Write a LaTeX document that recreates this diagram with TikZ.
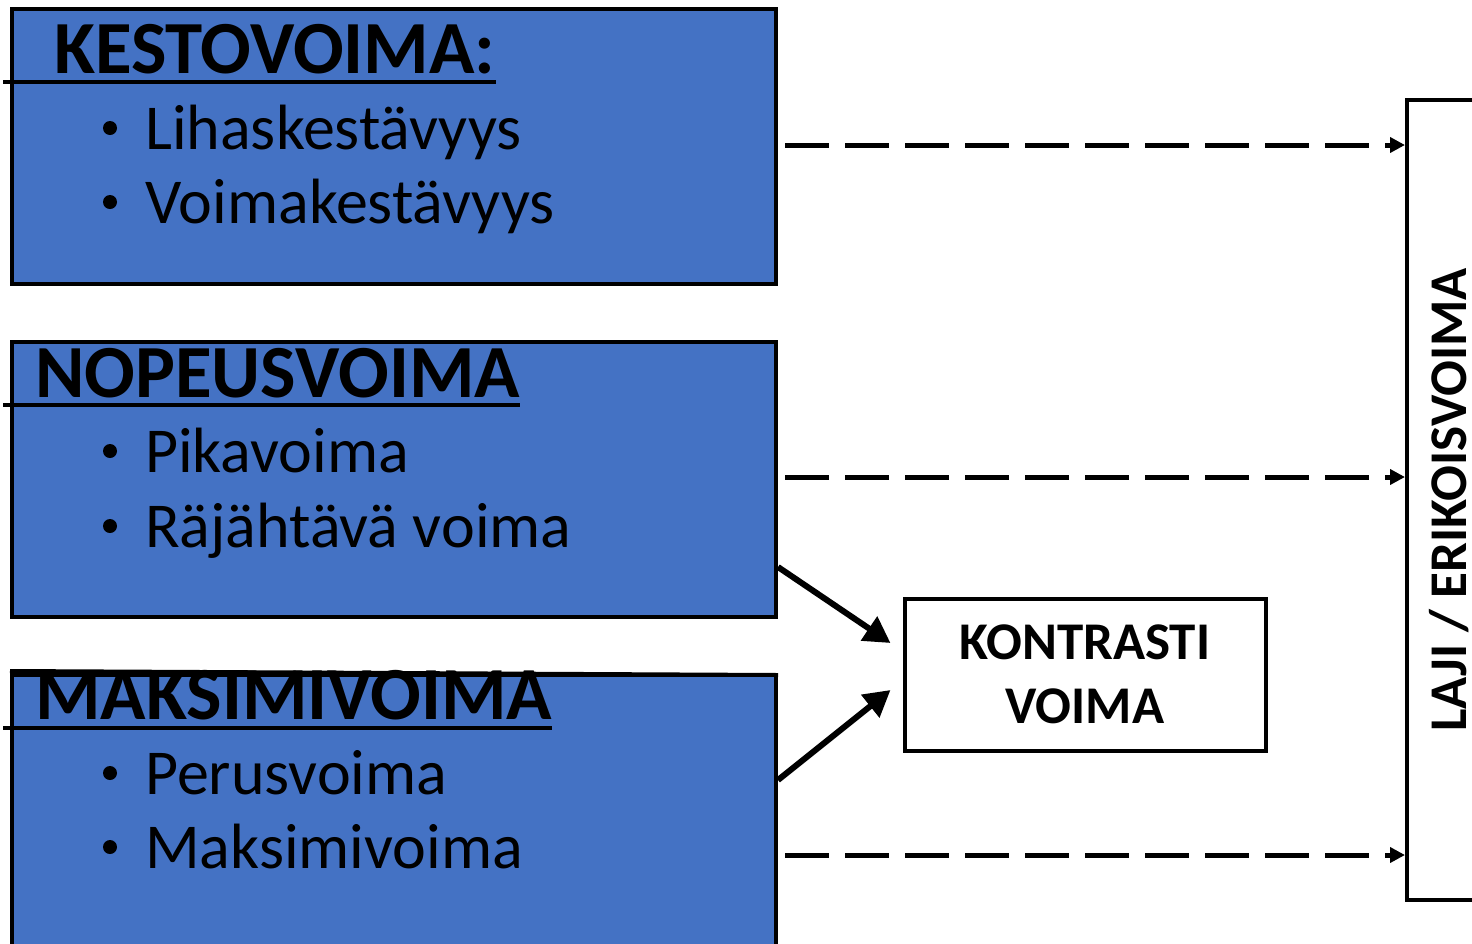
\documentclass[tikz,border=0pt]{standalone}
\usepackage{fontspec}
\setmainfont{Carlito}
\usetikzlibrary{arrows.meta}
\definecolor{boxblue}{HTML}{4472C4}
\begin{document}
\begin{tikzpicture}[x=1pt,y=-1pt,
  bluebox/.style={draw=black,line width=4pt,fill=boxblue,minimum width=764pt,inner sep=0pt},
  titletext/.style={font=\fontsize{75}{90}\selectfont\bfseries,inner sep=0pt,anchor=base west},
  itemtext/.style={font=\fontsize{64}{76}\selectfont,inner sep=0pt,anchor=base west},
  bul/.style={circle,fill=black,inner sep=0pt,minimum size=14pt},
  uline/.style={line width=4pt},
  dasharrow/.style={line width=5pt,dash pattern=on 44pt off 16pt,-{Triangle[length=15pt,width=15pt]}},
  solidarrow/.style={line width=6pt,-{Triangle[length=26pt,width=28pt]}},
  whitebox/.style={draw=black,line width=4pt,fill=white,inner sep=0pt},
  boldlabel/.style={font=\fontsize{53}{64}\selectfont\bfseries}
]
\useasboundingbox (0,0) rectangle (1472,943);
\clip (0,0) rectangle (1472,943);

% blue boxes
\node[bluebox,minimum height=275pt] (k) at (394,146.5) {};
\node[bluebox,minimum height=275pt] (n) at (394,479.5) {};
\node[bluebox,minimum height=360pt] (m) at (394,855) {};

% titles
\node[titletext] (kt) at (54,73) {KESTOVOIMA:};
\draw[uline] (3,82) -- (kt.east |- 0,82);
\node[titletext] (nt) at (35,397) {NOPEUSVOIMA};
\draw[uline] (3,405) -- (nt.east |- 0,405);
\node[titletext] (mt) at (35,719) {MAKSIMIVOIMA};
\draw[uline] (3,728) -- (mt.east |- 0,728);
% box3 top border over the title
\draw[line width=4pt] (m.north west) ++(0,-2) -- ([yshift=-2pt]m.north east);

% items
\node[bul] (b1) at (110,128) {};
\node[itemtext] (i1) at (145,149) {Lihaskestävyys};
\node[bul] (b2) at (110,202) {};
\node[itemtext] (i2) at (145,223) {Voimakestävyys};
\node[bul] (b3) at (110,451) {};
\node[itemtext] (i3) at (145,472) {Pikavoima};
\node[bul] (b4) at (110,526) {};
\node[itemtext] (i4) at (145,547) {Räjähtävä voima};
\node[bul] (b5) at (110,773) {};
\node[itemtext] (i5) at (145,794) {Perusvoima};
\node[bul] (b6) at (110,847) {};
\node[itemtext] (i6) at (145,868) {Maksimivoima};

% right box
\node[whitebox,minimum width=140pt,minimum height=800pt] (rb) at (1477,500) {};
\node[boldlabel,rotate=90,anchor=base,inner sep=0pt] (laji) at (1466,500) {LAJI / ERIKOISVOIMA};

% kontrasti box
\node[whitebox,boldlabel,minimum width=361pt,minimum height=152pt,align=center] (kon) at (1085,674.5) {KONTRASTI\\VOIMA};

% dashed arrows
\draw[dasharrow] ([xshift=7pt,yshift=1.5pt]k.east) -- ([yshift=1.5pt]k.east -| rb.west);
\draw[dasharrow] ([xshift=7pt,yshift=2.5pt]n.east) -- ([yshift=2.5pt]n.east -| rb.west);
\draw[dasharrow] ([xshift=7pt]m.east) -- (m.east -| rb.west);

% solid arrows
\draw[solidarrow] ([yshift=52pt]n.south east) -- ([xshift=-12pt,yshift=31.5pt]kon.west);
\draw[solidarrow] ([yshift=-107pt]m.north east) -- ([xshift=-12pt,yshift=-15.5pt]kon.west);
\end{tikzpicture}
\end{document}
